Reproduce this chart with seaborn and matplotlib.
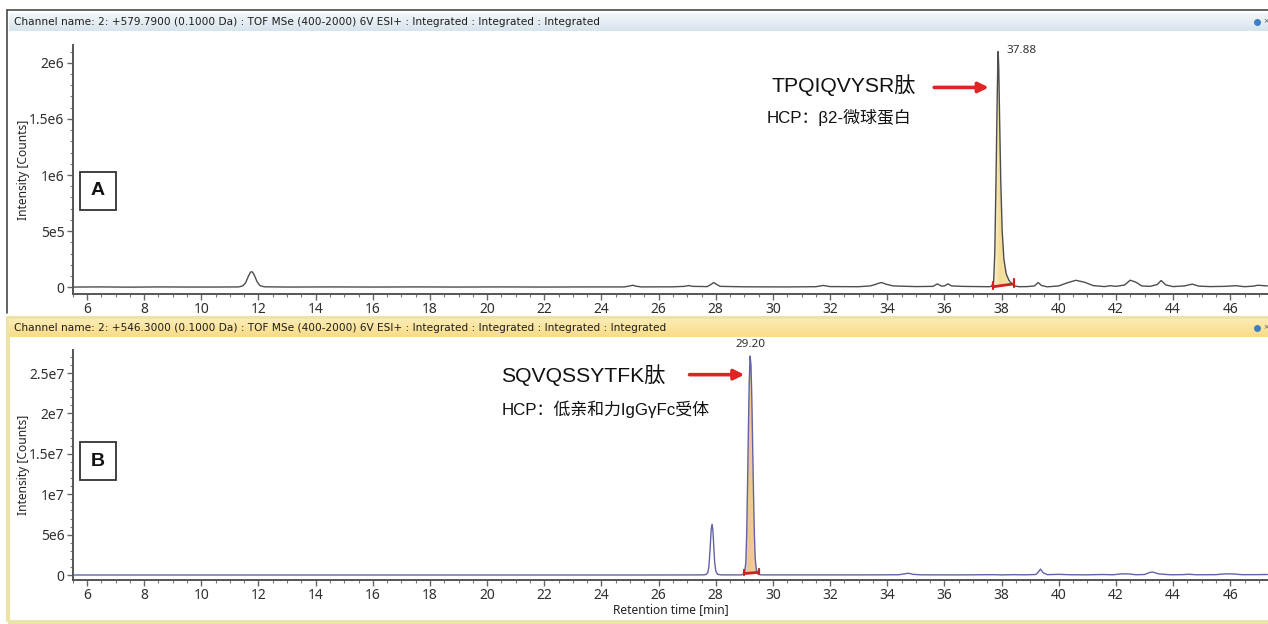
import numpy as np
import matplotlib
matplotlib.use("Agg")
import matplotlib.pyplot as plt
from matplotlib.colors import LinearSegmentedColormap
from matplotlib.lines import Line2D
from matplotlib.patches import Rectangle
import seaborn as sns

# ---------------- data ----------------
# Chromatogram A: extracted ion +579.7900, retention time [min] / intensity [counts]
a_time = [5.55, 6.5, 7.5, 8.5, 9.5, 10.5, 11.3, 11.45, 11.55, 11.65,
          11.72, 11.78, 11.85, 11.95, 12.05, 12.2, 13.0, 14.5, 16.0, 17.5,
          19.0, 20.5, 22.0, 23.5, 24.8, 25.0, 25.1, 25.2, 25.4, 26.5,
          26.9, 27.05, 27.2, 27.7, 27.85, 27.93, 28.0, 28.15, 29.0, 30.5,
          31.5, 31.75, 32.0, 33.0, 33.4, 33.55, 33.7, 33.8, 33.95, 34.2,
          35.0, 35.6, 35.75, 35.9, 36.0, 36.12, 36.25, 36.6, 37.2, 37.55,
          37.65, 37.72, 37.76, 37.80, 37.84, 37.87, 37.88, 37.90, 37.93, 37.97,
          38.02, 38.08, 38.16, 38.26, 38.36, 38.45, 38.6, 38.9, 39.15, 39.28,
          39.4, 39.6, 40.0, 40.3, 40.6, 40.9, 41.2, 41.6, 41.8, 42.0,
          42.3, 42.5, 42.7, 42.9, 43.2, 43.45, 43.58, 43.75, 44.0, 44.4,
          44.67, 44.9, 45.3, 45.8, 46.2, 46.5, 46.8, 46.97, 47.3]
a_intensity = [2e3, 3e3, 1e3, 3e3, 2e3, 2e3, 3e3, 1.2e4, 4e4, 1.0e5,
               1.35e5, 1.38e5, 1.1e5, 5e4, 1.5e4, 4e3, 2e3, 3e3, 2e3, 3e3,
               2e3, 3e3, 2e3, 3e3, 3e3, 1.2e4, 1.8e4, 1e4, 3e3, 4e3,
               8e3, 1.5e4, 8e3, 6e3, 2.8e4, 4.2e4, 3.0e4, 8e3, 4e3, 3e3,
               5e3, 1.6e4, 6e3, 5e3, 1.2e4, 2.2e4, 3.6e4, 4.2e4, 2.8e4, 1.2e4,
               6e3, 8e3, 3.0e4, 1.0e4, 1.2e4, 3.0e4, 1.2e4, 8e3, 6e3, 5e3,
               8e3, 5e4, 3e5, 9e5, 1.6e6, 2.05e6, 2.1e6, 1.95e6, 1.5e6, 9.5e5,
               5e5, 2.5e5, 1.2e5, 6e4, 3e4, 1.2e4, 5e3, 6e3, 1.2e4, 4.2e4,
               1.5e4, 4e3, 1.2e4, 4.0e4, 6.2e4, 4.5e4, 1.5e4, 6e3, 1.4e4, 8e3,
               2.0e4, 6.3e4, 4.5e4, 1.2e4, 8e3, 2.5e4, 6.0e4, 2.0e4, 6e3, 1.2e4,
               2.8e4, 1.0e4, 6e3, 8e3, 1.4e4, 5e3, 1.0e4, 1.8e4, 1.2e4]

# Chromatogram B: extracted ion +546.3000
b_time = [5.55, 8.0, 11.0, 14.0, 17.0, 20.0, 23.0, 25.5, 27.5, 27.65,
          27.72, 27.76, 27.80, 27.84, 27.87, 27.90, 27.93, 27.96, 28.0, 28.06,
          28.2, 28.9, 29.0, 29.05, 29.08, 29.11, 29.14, 29.17, 29.20, 29.23,
          29.26, 29.29, 29.32, 29.35, 29.38, 29.42, 29.48, 29.6, 31.0, 33.0,
          34.4, 34.6, 34.73, 34.9, 35.2, 36.5, 37.7, 38.0, 38.4, 38.8,
          39.2, 39.3, 39.36, 39.45, 39.6, 40.0, 40.4, 41.0, 41.5, 41.9,
          42.2, 42.45, 42.7, 43.0, 43.2, 43.3, 43.5, 43.9, 44.3, 44.55,
          44.8, 45.5, 45.8, 46.1, 46.4, 46.8, 47.3]
b_intensity = [2e4, 2e4, 2e4, 2e4, 2e4, 2e4, 2e4, 2e4, 3e4, 6e4,
               3e5, 1.1e6, 3.2e6, 5.7e6, 6.3e6, 5.5e6, 3.5e6, 1.6e6, 5e5, 1e5,
               3e4, 3e4, 2e5, 1.5e6, 5e6, 1.1e7, 1.8e7, 2.4e7, 2.71e7, 2.6e7,
               2.2e7, 1.6e7, 1.0e7, 5e6, 2e6, 6e5, 1e5, 3e4, 3e4, 3e4,
               5e4, 1.6e5, 2.4e5, 1.0e5, 4e4, 3e4, 6e4, 3e4, 6e4, 4e4,
               8e4, 4.5e5, 7.5e5, 3.0e5, 6e4, 1.0e5, 5e4, 4e4, 8e4, 5e4,
               1.6e5, 1.5e5, 5e4, 8e4, 3.5e5, 3.7e5, 1.5e5, 5e4, 6e4, 1.1e5,
               5e4, 6e4, 1.6e5, 1.5e5, 6e4, 6e4, 8e4]

# integrated peak windows [start, end] and their baseline heights
a_window = [37.71, 38.42]
a_window_base = [0.5e4, 3.0e4]
b_window = [29.00, 29.50]
b_window_base = [2.0e5, 3.5e5]

a_peak_rt = 37.88
b_peak_rt = 29.20

a_yticks = [0, 5e5, 1e6, 1.5e6, 2e6]
a_yticklabels = ["0", "5e5", "1e6", "1.5e6", "2e6"]
b_yticks = [0, 5e6, 1e7, 1.5e7, 2e7, 2.5e7]
b_yticklabels = ["0", "5e6", "1e7", "1.5e7", "2e7", "2.5e7"]
x_ticks = list(range(6, 48, 2))

a_channel = ("Channel name: 2: +579.7900 (0.1000 Da) : TOF MSe (400-2000) 6V ESI+ : "
             "Integrated : Integrated : Integrated")
b_channel = ("Channel name: 2: +546.3000 (0.1000 Da) : TOF MSe (400-2000) 6V ESI+ : "
             "Integrated : Integrated : Integrated : Integrated")
a_peptide = "TPQIQVYSR肽"
a_protein = "HCP：β2-微球蛋白"
b_peptide = "SQVQSSYTFK肽"
b_protein = "HCP：低亲和力IgGγFc受体"

# ---------------- style ----------------
sns.set_theme(style="ticks")
plt.rcParams["font.family"] = ["Noto Sans", "Noto Sans CJK SC", "DejaVu Sans"]
CJK = ["Liberation Sans", "Noto Sans CJK SC", "DejaVu Sans"]

W, H = 1268, 624
fig = plt.figure(figsize=(W / 100, H / 100), dpi=100)
fig.patch.set_facecolor("white")


def fx(px):
    return px / W


def fy(py):
    return 1 - py / H


# window frames
fig.add_artist(Rectangle((fx(8), fy(622)), fx(1275), fy(318) - fy(622),
                         transform=fig.transFigure, fill=False,
                         ec="#ece3a8", lw=3.0, zorder=0))
fig.add_artist(Line2D([fx(7), fx(1268)], [fy(10), fy(10)], transform=fig.transFigure,
                      color="#4a4a4a", lw=1.2))
fig.add_artist(Line2D([fx(7), fx(7)], [fy(10), fy(313)], transform=fig.transFigure,
                      color="#4a4a4a", lw=1.2))


def header(top_px, text, c_top, c_bot):
    hax = fig.add_axes([fx(9), fy(top_px + 18), fx(1268 - 9), 18 / H])
    grad = np.linspace(0, 1, 32).reshape(-1, 1)
    cmap = LinearSegmentedColormap.from_list("hdr", [c_top, c_bot])
    hax.imshow(grad, aspect="auto", cmap=cmap, extent=[0, 1, 0, 1], origin="upper")
    hax.set_axis_off()
    hax.text(0.004, 0.5, text, transform=hax.transAxes, fontsize=7.55,
             family=["DejaVu Sans"], color="#1e1e1e", va="center", ha="left")
    hax.plot([0.9915], [0.5], marker="o", ms=4, color="#3d7fc4", transform=hax.transAxes)
    hax.text(0.9965, 0.5, "×", transform=hax.transAxes, fontsize=7, color="#666",
             va="center", ha="left", clip_on=False)


header(13, a_channel, "#f3f7fa", "#d6e4ec")
header(319, b_channel, "#fcecb4", "#f8dc86")


def gradient_fill(ax, t, y, window, base, colors):
    t = np.asarray(t)
    y = np.asarray(y)
    seg = np.linspace(window[0], window[1], 200)
    curve = np.interp(seg, t, y)
    baseline = np.interp(seg, window, base)
    poly = ax.fill_between(seg, baseline, curve, color="none", lw=0)
    cmap = LinearSegmentedColormap.from_list("pk", colors)
    grad = np.linspace(0, 1, 64).reshape(1, -1)
    img = ax.imshow(grad, aspect="auto", cmap=cmap,
                    extent=[window[0], window[1], min(base), curve.max()],
                    zorder=1.5, interpolation="bilinear")
    img.set_clip_path(poly.get_paths()[0], ax.transData)


def integration_marks(ax, window, base, tick_h):
    ax.plot(window, base, color="#d02020", lw=2.0, zorder=4, solid_capstyle="butt")
    for xw, yb in zip(window, base):
        ax.plot([xw, xw], [yb - tick_h * 0.6, yb + tick_h], color="#d02020",
                lw=1.6, zorder=4)


def style_axes(ax, yticks, yticklabels, ylim, yminor):
    ax.set_xlim(5.53, 47.32)
    ax.set_ylim(*ylim)
    ax.set_xticks(x_ticks)
    ax.set_xticklabels([str(v) for v in x_ticks])
    ax.set_xticks(np.arange(5.5, 47.5, 0.5), minor=True)
    ax.set_yticks(yticks)
    ax.set_yticklabels(yticklabels)
    ax.set_yticks(np.arange(0, ylim[1], yminor), minor=True)
    for s in ("top", "right"):
        ax.spines[s].set_visible(False)
    for s in ("left", "bottom"):
        ax.spines[s].set_color("#555555")
        ax.spines[s].set_linewidth(1.4)
    ax.tick_params(axis="both", which="major", length=4, width=1, color="#666",
                   labelsize=10, labelcolor="#303030", direction="out", pad=2)
    ax.tick_params(axis="both", which="minor", length=2.2, width=0.8, color="#777",
                   direction="out")
    ax.set_ylabel("Intensity [Counts]", fontsize=8.6, color="#222")
    ax.yaxis.set_label_coords(-0.036, 0.5)
    ax.set_facecolor("white")
    ax.grid(False)


# ---------------- panel A ----------------
axA = fig.add_axes([fx(72.7), fy(294), 1 - fx(72.7), fy(45) - fy(294)])
gradient_fill(axA, a_time, a_intensity, a_window, a_window_base,
              ["#fdf4d6", "#f4dc98", "#f6e2a8", "#fdf6dc"])
sns.lineplot(x=a_time, y=a_intensity, ax=axA, color="#4d4d4d", lw=1.0,
             sort=False, estimator=None, zorder=3)
integration_marks(axA, a_window, a_window_base, 4.0e4)
style_axes(axA, a_yticks, a_yticklabels, (-0.06e6, 2.158e6), 1e5)
axA.set_xlabel("")

apex_a = max(a_intensity)
axA.text(a_peak_rt + 0.28, apex_a + 0.005e6, f"{a_peak_rt:.2f}", fontsize=8.4,
         color="#333", ha="left", va="center")
axA.text(29.94, 1.80e6, a_peptide, fontsize=15.2, family=CJK, color="#111",
         ha="left", va="center")
axA.text(29.78, 1.51e6, a_protein, fontsize=12.2, family=CJK, color="#111",
         ha="left", va="center")
axA.annotate("", xy=(37.55, 1.78e6), xytext=(35.64, 1.78e6),
             arrowprops=dict(arrowstyle="-|>", color="#e02424", lw=2.6,
                             mutation_scale=15, shrinkA=0, shrinkB=0))
axA.text(6.38, 0.86e6, "A", fontsize=14, fontweight="bold", family=CJK, color="#111",
         ha="center", va="center",
         bbox=dict(boxstyle="square,pad=0.55", fc="white", ec="#333", lw=1.3))

# ---------------- panel B ----------------
axB = fig.add_axes([fx(72.7), fy(580), 1 - fx(72.7), fy(350) - fy(580)])
gradient_fill(axB, b_time, b_intensity, b_window, b_window_base,
              ["#dcd4f0", "#f0c78e", "#f3cd96", "#ddd6f0"])
sns.lineplot(x=b_time, y=b_intensity, ax=axB, color="#6262a6", lw=1.0,
             sort=False, estimator=None, zorder=3)
integration_marks(axB, b_window, b_window_base, 4.0e5)
style_axes(axB, b_yticks, b_yticklabels, (-0.06e7, 2.785e7), 1e6)
axB.set_xlabel("Retention time [min]", fontsize=8.6, color="#222", labelpad=0)

apex_b = max(b_intensity)
axB.text(b_peak_rt, apex_b + 0.14e7, f"{b_peak_rt:.2f}", fontsize=8.4,
         color="#333", ha="center", va="center", clip_on=False)
axB.text(20.49, 2.48e7, b_peptide, fontsize=15.2, family=CJK, color="#111",
         ha="left", va="center")
axB.text(20.49, 2.05e7, b_protein, fontsize=12.2, family=CJK, color="#111",
         ha="left", va="center")
axB.annotate("", xy=(29.0, 2.48e7), xytext=(27.08, 2.48e7),
             arrowprops=dict(arrowstyle="-|>", color="#e02424", lw=2.6,
                             mutation_scale=15, shrinkA=0, shrinkB=0))
axB.text(6.38, 1.41e7, "B", fontsize=14, fontweight="bold", family=CJK, color="#111",
         ha="center", va="center",
         bbox=dict(boxstyle="square,pad=0.55", fc="white", ec="#333", lw=1.3))

fig.savefig("out.png", dpi=100, facecolor="white")
